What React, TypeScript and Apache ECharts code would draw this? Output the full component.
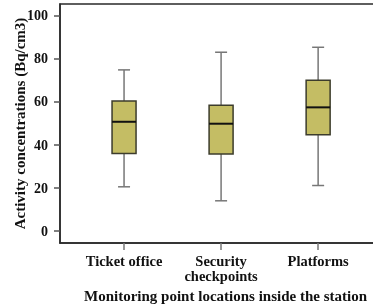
import React, { useEffect, useRef } from "react";
import * as echarts from "echarts";

const categories = ["Ticket office", "Security\ncheckpoints", "Platforms"];
const whiskerLow = [20.6, 14.1, 21.2];
const q1 = [36.1, 35.8, 44.8];
const medians = [50.8, 49.9, 57.5];
const q3 = [60.5, 58.5, 70.1];
const whiskerHigh = [74.9, 83.1, 85.4];
const yTicks = [0, 20, 40, 60, 80, 100];
const xPositions = [1, 2, 3];

const FONT = "'Liberation Serif', 'Times New Roman', serif";

export default function App() {
  const ref = useRef<HTMLDivElement>(null);
  useEffect(() => {
    if (!ref.current) return;
    const chart = echarts.init(ref.current, undefined, { renderer: "svg" });
    const data = categories.map((_, i) => [
      xPositions[i],
      whiskerLow[i],
      q1[i],
      medians[i],
      q3[i],
      whiskerHigh[i],
    ]);
    chart.setOption({
      animation: false,
      grid: {
        left: 60,
        top: 4,
        bottom: 64,
        right: -15,
        outerBoundsMode: "none",
        containLabel: false,
        show: true,
        borderColor: "#2a2a2a",
        borderWidth: 1.5,
        backgroundColor: "transparent",
      },
      xAxis: {
        type: "value",
        min: 0.34,
        max: 3.72,
        splitLine: { show: false },
        axisLine: { show: true, onZero: false, lineStyle: { color: "#2a2a2a", width: 1.5 } },
        axisTick: {
          show: true,
          customValues: xPositions,
          length: 7,
          lineStyle: { color: "#777", width: 1.5 },
        },
        axisLabel: {
          customValues: xPositions,
          formatter: (v: number) => categories[Math.round(v) - 1] ?? "",
          margin: 11,
          fontFamily: FONT,
          fontWeight: "bold",
          fontSize: 14.5,
          lineHeight: 14.5,
          color: "#111",
        },
        name: "Monitoring point locations inside the station",
        nameLocation: "middle",
        nameGap: 43,
        nameTextStyle: {
          fontFamily: FONT,
          fontWeight: "bold",
          fontSize: 15,
          color: "#111",
          padding: [0, 0, 0, 3],
        },
      },
      yAxis: {
        type: "value",
        min: -5.5,
        max: 105.5,
        splitLine: { show: false },
        axisLine: { show: true, onZero: false, lineStyle: { color: "#2a2a2a", width: 1.5 } },
        axisTick: {
          show: true,
          customValues: yTicks,
          length: 6,
          lineStyle: { color: "#555", width: 1.5 },
        },
        axisLabel: {
          customValues: yTicks,
          margin: 12,
          fontFamily: FONT,
          fontWeight: "bold",
          fontSize: 14,
          color: "#111",
        },
        name: "Activity concentrations (Bq/cm3)",
        nameLocation: "middle",
        nameGap: 33,
        nameMoveOverlap: false,
        nameTextStyle: {
          fontFamily: FONT,
          fontWeight: "bold",
          fontSize: 15,
          color: "#111",
        },
      },
      series: [
        {
          type: "custom",
          data,
          encode: { x: 0, y: [1, 2, 3, 4, 5] },
          renderItem: (params: any, api: any) => {
            const x = api.value(0);
            const pLow = api.coord([x, api.value(1)]);
            const pQ1 = api.coord([x, api.value(2)]);
            const pMed = api.coord([x, api.value(3)]);
            const pQ3 = api.coord([x, api.value(4)]);
            const pHigh = api.coord([x, api.value(5)]);
            const cx = pMed[0];
            const bw = 24;
            const cw = 12;
            const whisk = { stroke: "#777", lineWidth: 1.5 };
            return {
              type: "group",
              children: [
                { type: "line", shape: { x1: cx, y1: pHigh[1], x2: cx, y2: pQ3[1] }, style: whisk },
                { type: "line", shape: { x1: cx, y1: pQ1[1], x2: cx, y2: pLow[1] }, style: whisk },
                { type: "line", shape: { x1: cx - cw / 2, y1: pHigh[1], x2: cx + cw / 2, y2: pHigh[1] }, style: whisk },
                { type: "line", shape: { x1: cx - cw / 2, y1: pLow[1], x2: cx + cw / 2, y2: pLow[1] }, style: whisk },
                {
                  type: "rect",
                  shape: { x: cx - bw / 2, y: pQ3[1], width: bw, height: pQ1[1] - pQ3[1] },
                  style: { fill: "#c4bd64", stroke: "#3c3c2c", lineWidth: 1.5 },
                },
                {
                  type: "line",
                  shape: { x1: cx - bw / 2, y1: pMed[1], x2: cx + bw / 2, y2: pMed[1] },
                  style: { stroke: "#111", lineWidth: 2 },
                },
              ],
            };
          },
        },
      ],
    });
    return () => chart.dispose();
  }, []);
  return (
    <div
      ref={ref}
      style={{ position: "fixed", left: 0, top: 0, width: 373, height: 307 }}
    />
  );
}
